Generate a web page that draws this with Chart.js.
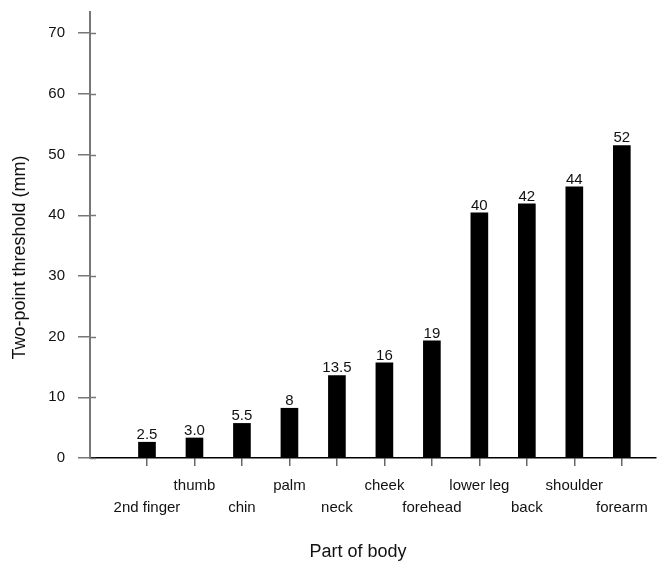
<!DOCTYPE html>
<html>
<head>
<meta charset="utf-8">
<script src="https://cdn.jsdelivr.net/npm/chart.js@4.4.1/dist/chart.umd.min.js"></script>
<style>
    html, body { margin: 0; padding: 0; background: #fff; }
</style>
</head>
<body>
<canvas id="thresholdChart" width="657" height="566"></canvas>
<script>
// Body parts, in the order they appear along the x axis
const BODY_PARTS = ["2nd finger", "thumb", "chin", "palm", "neck", "cheek", "forehead", "lower leg", "back", "shoulder", "forearm"]
// Bar heights as drawn in the figure (mm)
const THRESHOLDS = [2.6, 3.3, 5.7, 8.2, 13.6, 15.7, 19.3, 40.4, 41.9, 44.7, 51.5]
// Numbers printed above each bar
const VALUE_LABELS = ["2.5", "3.0", "5.5", "8", "13.5", "16", "19", "40", "42", "44", "52"]
const Y_TICKS = [0, 10, 20, 30, 40, 50, 60, 70]

const FONT = "'Liberation Sans', Arial, Helvetica, sans-serif"

// Writes the value above every bar
const barLabels = {
    id: "barLabels",
    afterDatasetsDraw(chart) {
        const ctx = chart.ctx
        const bars = chart.getDatasetMeta(0).data
        ctx.save()
        ctx.font = "15px " + FONT
        ctx.fillStyle = "#111"
        ctx.textAlign = "center"
        ctx.textBaseline = "alphabetic"
        bars.forEach((bar, i) => {
            ctx.fillText(VALUE_LABELS[i], bar.x, bar.y - 3)
        })
        ctx.restore()
    }
}

// The y ticks poke a little way into the plot as well
const innerTicks = {
    id: "innerTicks",
    afterDraw(chart) {
        const ctx = chart.ctx
        const yScale = chart.scales.y
        ctx.save()
        ctx.strokeStyle = "#777"
        ctx.lineWidth = 1.5
        Y_TICKS.forEach((v) => {
            const y = Math.round(yScale.getPixelForValue(v)) + 0.5
            ctx.beginPath()
            ctx.moveTo(yScale.right, y)
            ctx.lineTo(yScale.right + 6, y)
            ctx.stroke()
        })
        ctx.restore()
    }
}

const chartCanvas = document.getElementById("thresholdChart").getContext("2d")
const chart = new Chart(chartCanvas, {
    type: "bar",
    data: {
        datasets: [{
            label: "Two-point threshold",
            data: BODY_PARTS.map((part, i) => ({ x: i, y: THRESHOLDS[i] })),
            backgroundColor: "#000",
            borderWidth: 0,
            barThickness: 17
        }]
    },
    options: {
        responsive: false,
        animation: false,
        layout: { padding: { top: 12, right: 1, left: 0, bottom: 0 } },
        plugins: {
            legend: { display: false },
            tooltip: { enabled: false }
        },
        scales: {
            x: {
                type: "linear",
                offset: false,
                min: -1.2,
                max: 10.72,
                afterBuildTicks: (scale) => {
                    scale.ticks = BODY_PARTS.map((part, i) => ({ value: i }))
                },
                afterFit: (scale) => { scale.height = 108 },
                ticks: {
                    // alternate labels between two rows so they don't collide
                    callback: (value) => {
                        const name = BODY_PARTS[value]
                        return value % 2 === 0 ? ["", name] : [name]
                    },
                    font: { family: FONT, size: 15, lineHeight: 22 / 15 },
                    color: "#111",
                    padding: 9,
                    maxRotation: 0,
                    autoSkip: false
                },
                grid: {
                    offset: false,
                    drawOnChartArea: false,
                    drawTicks: true,
                    tickLength: 8,
                    color: "#666",
                    lineWidth: 1.5
                },
                border: { color: "#000", width: 1.5 },
                title: {
                    display: true,
                    // trailing spaces nudge the centred title left, as in the figure
                    text: "Part of body      ",
                    font: { family: FONT, size: 18 },
                    color: "#111",
                    padding: { top: 0, bottom: 3 }
                }
            },
            y: {
                min: 0,
                max: 73.5,
                afterBuildTicks: (scale) => {
                    scale.ticks = Y_TICKS.map((v) => ({ value: v }))
                },
                afterFit: (scale) => {
                    scale.width = 90
                    // top tick sits well below the axis end, no extra room needed
                    scale.paddingTop = 0
                    scale.paddingBottom = 0
                },
                ticks: {
                    font: { family: FONT, size: 15 },
                    color: "#111",
                    padding: 13
                },
                grid: {
                    drawOnChartArea: false,
                    drawTicks: true,
                    tickLength: 12,
                    color: "#777",
                    lineWidth: 1.5
                },
                border: { color: "#777", width: 2 },
                title: {
                    display: true,
                    // trailing spaces push the rotated title a bit lower
                    text: "Two-point threshold (mm)         ",
                    font: { family: FONT, size: 18 },
                    color: "#111",
                    padding: { top: 9, bottom: 0 }
                }
            }
        }
    },
    plugins: [barLabels, innerTicks]
})
</script>
</body>
</html>
